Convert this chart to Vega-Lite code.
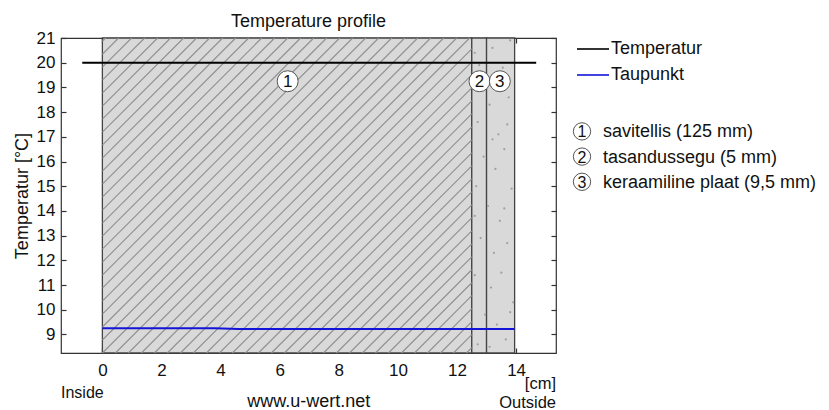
{
  "$schema": "https://vega.github.io/schema/vega-lite/v6.json",
  "width": 495,
  "height": 315,
  "autosize": {"type": "none"},
  "padding": {"left": 61, "top": 38, "right": 273, "bottom": 57},
  "background": "white",
  "title": {"text": "Temperature profile", "fontSize": 18, "font": "Liberation Sans", "fontWeight": "normal", "color": "#111", "anchor": "middle", "baseline": "alphabetic", "offset": 10, "dy": 26},
  "config": {
    "font": "Liberation Sans",
    "view": {"stroke": "#333", "strokeWidth": 1.2},
    "axis": {"domain": false, "grid": false, "tickColor": "#333", "tickWidth": 1.2, "labelFont": "Liberation Sans", "labelFontSize": 17, "labelColor": "#111", "titleFont": "Liberation Sans", "titleFontWeight": "normal", "titleColor": "#111"}
  },
  "datasets": {
    "materials": [
      {"id": "1", "name": "savitellis (125 mm)", "from": 0, "to": 12.5, "labelX": 6.27, "keyY": 17.22},
      {"id": "2", "name": "tasandussegu (5 mm)", "from": 12.5, "to": 13.0, "labelX": 12.76, "keyY": 16.2},
      {"id": "3", "name": "keraamiline plaat (9,5 mm)", "from": 13.0, "to": 13.95, "labelX": 13.45, "keyY": 15.18}
    ],
    "hatch": [
      {"xa": 0, "ya": 20.868, "xb": 0.11, "yb": 21},
      {"xa": 0, "ya": 20.342, "xb": 0.55, "yb": 21},
      {"xa": 0, "ya": 19.817, "xb": 0.99, "yb": 21},
      {"xa": 0, "ya": 19.291, "xb": 1.43, "yb": 21},
      {"xa": 0, "ya": 18.765, "xb": 1.87, "yb": 21},
      {"xa": 0, "ya": 18.239, "xb": 2.31, "yb": 21},
      {"xa": 0, "ya": 17.714, "xb": 2.75, "yb": 21},
      {"xa": 0, "ya": 17.188, "xb": 3.19, "yb": 21},
      {"xa": 0, "ya": 16.662, "xb": 3.63, "yb": 21},
      {"xa": 0, "ya": 16.136, "xb": 4.07, "yb": 21},
      {"xa": 0, "ya": 15.611, "xb": 4.51, "yb": 21},
      {"xa": 0, "ya": 15.085, "xb": 4.95, "yb": 21},
      {"xa": 0, "ya": 14.559, "xb": 5.39, "yb": 21},
      {"xa": 0, "ya": 14.033, "xb": 5.83, "yb": 21},
      {"xa": 0, "ya": 13.508, "xb": 6.27, "yb": 21},
      {"xa": 0, "ya": 12.982, "xb": 6.71, "yb": 21},
      {"xa": 0, "ya": 12.456, "xb": 7.15, "yb": 21},
      {"xa": 0, "ya": 11.93, "xb": 7.59, "yb": 21},
      {"xa": 0, "ya": 11.405, "xb": 8.03, "yb": 21},
      {"xa": 0, "ya": 10.879, "xb": 8.47, "yb": 21},
      {"xa": 0, "ya": 10.353, "xb": 8.91, "yb": 21},
      {"xa": 0, "ya": 9.827, "xb": 9.35, "yb": 21},
      {"xa": 0, "ya": 9.302, "xb": 9.79, "yb": 21},
      {"xa": 0, "ya": 8.776, "xb": 10.23, "yb": 21},
      {"xa": 0, "ya": 8.25, "xb": 10.67, "yb": 21},
      {"xa": 0.44, "ya": 8.25, "xb": 11.11, "yb": 21},
      {"xa": 0.88, "ya": 8.25, "xb": 11.55, "yb": 21},
      {"xa": 1.32, "ya": 8.25, "xb": 11.99, "yb": 21},
      {"xa": 1.76, "ya": 8.25, "xb": 12.43, "yb": 21},
      {"xa": 2.2, "ya": 8.25, "xb": 12.5, "yb": 20.557},
      {"xa": 2.64, "ya": 8.25, "xb": 12.5, "yb": 20.032},
      {"xa": 3.08, "ya": 8.25, "xb": 12.5, "yb": 19.506},
      {"xa": 3.52, "ya": 8.25, "xb": 12.5, "yb": 18.98},
      {"xa": 3.96, "ya": 8.25, "xb": 12.5, "yb": 18.454},
      {"xa": 4.4, "ya": 8.25, "xb": 12.5, "yb": 17.929},
      {"xa": 4.84, "ya": 8.25, "xb": 12.5, "yb": 17.403},
      {"xa": 5.28, "ya": 8.25, "xb": 12.5, "yb": 16.877},
      {"xa": 5.72, "ya": 8.25, "xb": 12.5, "yb": 16.351},
      {"xa": 6.16, "ya": 8.25, "xb": 12.5, "yb": 15.826},
      {"xa": 6.6, "ya": 8.25, "xb": 12.5, "yb": 15.3},
      {"xa": 7.04, "ya": 8.25, "xb": 12.5, "yb": 14.774},
      {"xa": 7.48, "ya": 8.25, "xb": 12.5, "yb": 14.248},
      {"xa": 7.92, "ya": 8.25, "xb": 12.5, "yb": 13.723},
      {"xa": 8.36, "ya": 8.25, "xb": 12.5, "yb": 13.197},
      {"xa": 8.8, "ya": 8.25, "xb": 12.5, "yb": 12.671},
      {"xa": 9.24, "ya": 8.25, "xb": 12.5, "yb": 12.145},
      {"xa": 9.68, "ya": 8.25, "xb": 12.5, "yb": 11.62},
      {"xa": 10.12, "ya": 8.25, "xb": 12.5, "yb": 11.094},
      {"xa": 10.56, "ya": 8.25, "xb": 12.5, "yb": 10.568},
      {"xa": 11.0, "ya": 8.25, "xb": 12.5, "yb": 10.042},
      {"xa": 11.44, "ya": 8.25, "xb": 12.5, "yb": 9.517},
      {"xa": 11.88, "ya": 8.25, "xb": 12.5, "yb": 8.991},
      {"xa": 12.32, "ya": 8.25, "xb": 12.5, "yb": 8.465}
    ],
    "specks": [
      {"x": 12.6, "y": 20.4}, {"x": 12.85, "y": 19.1}, {"x": 13.2, "y": 20.6}, {"x": 13.55, "y": 19.8},
      {"x": 13.8, "y": 20.9}, {"x": 12.7, "y": 17.6}, {"x": 13.1, "y": 18.3}, {"x": 13.4, "y": 17.1},
      {"x": 13.75, "y": 18.6}, {"x": 12.9, "y": 16.2}, {"x": 13.3, "y": 15.7}, {"x": 13.6, "y": 16.5},
      {"x": 12.65, "y": 15.0}, {"x": 13.05, "y": 14.2}, {"x": 13.85, "y": 14.9}, {"x": 13.45, "y": 13.6},
      {"x": 12.8, "y": 12.9}, {"x": 13.25, "y": 12.3}, {"x": 13.7, "y": 12.7}, {"x": 12.6, "y": 11.4},
      {"x": 13.15, "y": 10.9}, {"x": 13.5, "y": 11.5}, {"x": 13.9, "y": 10.3}, {"x": 12.95, "y": 9.8},
      {"x": 13.35, "y": 9.4}, {"x": 13.65, "y": 8.8}, {"x": 12.7, "y": 8.6}, {"x": 13.1, "y": 8.5},
      {"x": 13.8, "y": 9.9}, {"x": 12.75, "y": 19.9}, {"x": 13.6, "y": 14.1}, {"x": 13.2, "y": 16.9},
      {"x": 12.6, "y": 13.8}, {"x": 13.4, "y": 19.3}, {"x": 13.7, "y": 17.5}
    ],
    "profile": [
      {"series": "Temperatur", "x": -0.68, "t": 20.0},
      {"series": "Temperatur", "x": 14.68, "t": 20.0},
      {"series": "Taupunkt", "x": 0, "t": 9.25},
      {"series": "Taupunkt", "x": 3.8, "t": 9.25},
      {"series": "Taupunkt", "x": 4.6, "t": 9.22},
      {"series": "Taupunkt", "x": 13.95, "t": 9.22}
    ]
  },
  "layer": [
    {
      "data": {"name": "materials"},
      "mark": {"type": "rect", "fill": "#d9d9d9", "stroke": "#444", "strokeWidth": 1.3},
      "encoding": {
        "x": {"field": "from", "type": "quantitative", "scale": {"domain": [-1.4, 15.35], "nice": false, "zero": false},
              "axis": {"orient": "bottom", "values": [0, 2, 4, 6, 8, 10, 12, 14], "tickSize": -5, "labelPadding": 14, "title": null}},
        "x2": {"field": "to"},
        "y": {"datum": 21, "type": "quantitative", "scale": {"domain": [8.25, 21], "nice": false, "zero": false},
              "axis": {"orient": "left", "values": [9, 10, 11, 12, 13, 14, 15, 16, 17, 18, 19, 20, 21], "tickSize": -5, "labelPadding": 11, "title": "Temperatur [°C]", "titleFontSize": 18, "titlePadding": 5}},
        "y2": {"datum": 8.25}
      }
    },
    {
      "data": {"name": "hatch"},
      "mark": {"type": "rule", "stroke": "#909090", "strokeWidth": 1.1},
      "encoding": {
        "x": {"field": "xa", "type": "quantitative", "axis": null},
        "x2": {"field": "xb"},
        "y": {"field": "ya", "type": "quantitative", "axis": null},
        "y2": {"field": "yb"}
      }
    },
    {
      "data": {"name": "specks"},
      "mark": {"type": "point", "shape": "circle", "filled": true, "color": "#a0a0a0", "opacity": 1, "size": 5},
      "encoding": {
        "x": {"field": "x", "type": "quantitative", "axis": null},
        "y": {"field": "y", "type": "quantitative", "axis": null}
      }
    },
    {
      "data": {"name": "profile"},
      "mark": {"type": "line", "strokeWidth": 2},
      "encoding": {
        "x": {"field": "x", "type": "quantitative",
              "axis": {"orient": "top", "values": [0, 2, 4, 6, 8, 10, 12, 14], "tickSize": -5, "labels": false, "title": null, "minExtent": 0, "maxExtent": 0, "offset": 0}},
        "y": {"field": "t", "type": "quantitative",
              "axis": {"orient": "right", "values": [9, 10, 11, 12, 13, 14, 15, 16, 17, 18, 19, 20, 21], "tickSize": -5, "labels": false, "title": null, "minExtent": 0, "maxExtent": 0}},
        "color": {"field": "series", "type": "nominal",
                  "scale": {"domain": ["Temperatur", "Taupunkt"], "range": ["#000000", "#1414d8"]},
                  "legend": {"title": null, "orient": "none", "legendX": 515, "legendY": -6, "symbolType": "stroke", "symbolSize": 1024, "symbolStrokeWidth": 1.6, "labelFontSize": 18, "labelFont": "Liberation Sans", "labelColor": "#111", "labelOffset": 1, "rowPadding": -6, "padding": 0}},
        "detail": {"field": "series"}
      }
    },
    {
      "data": {"name": "materials"},
      "mark": {"type": "point", "shape": "circle", "filled": true, "fill": "white", "stroke": "#555", "strokeWidth": 1, "opacity": 1, "size": 440},
      "encoding": {
        "x": {"field": "labelX", "type": "quantitative", "axis": null},
        "y": {"datum": 19.25, "type": "quantitative", "axis": null}
      }
    },
    {
      "data": {"name": "materials"},
      "mark": {"type": "text", "fontSize": 17, "color": "#111", "align": "center", "baseline": "middle", "dy": 1},
      "encoding": {
        "x": {"field": "labelX", "type": "quantitative", "axis": null},
        "y": {"datum": 19.25, "type": "quantitative", "axis": null},
        "text": {"field": "id"}
      }
    },
    {
      "data": {"name": "materials"},
      "mark": {"type": "point", "shape": "circle", "filled": true, "fill": "white", "stroke": "#555", "strokeWidth": 1, "opacity": 1, "size": 300},
      "encoding": {
        "x": {"datum": 16.23, "type": "quantitative", "axis": null},
        "y": {"field": "keyY", "type": "quantitative", "axis": null}
      }
    },
    {
      "data": {"name": "materials"},
      "mark": {"type": "text", "fontSize": 16, "color": "#111", "align": "center", "baseline": "middle", "dy": 1},
      "encoding": {
        "x": {"datum": 16.23, "type": "quantitative", "axis": null},
        "y": {"field": "keyY", "type": "quantitative", "axis": null},
        "text": {"field": "id"}
      }
    },
    {
      "data": {"name": "materials"},
      "mark": {"type": "text", "fontSize": 18, "color": "#111", "align": "left", "baseline": "middle", "dy": 1},
      "encoding": {
        "x": {"datum": 16.94, "type": "quantitative", "axis": null},
        "y": {"field": "keyY", "type": "quantitative", "axis": null},
        "text": {"field": "name"}
      }
    },
    {
      "data": {"values": [{"label": "Inside", "x": -1.4, "y": 6.43}]},
      "mark": {"type": "text", "fontSize": 16, "color": "#111", "align": "left", "baseline": "alphabetic"},
      "encoding": {
        "x": {"field": "x", "type": "quantitative", "axis": null},
        "y": {"field": "y", "type": "quantitative", "axis": null},
        "text": {"field": "label"}
      }
    },
    {
      "data": {"values": [{"label": "www.u-wert.net", "x": 6.98, "y": 6.06}]},
      "mark": {"type": "text", "fontSize": 18, "color": "#111", "align": "center", "baseline": "alphabetic"},
      "encoding": {
        "x": {"field": "x", "type": "quantitative", "axis": null},
        "y": {"field": "y", "type": "quantitative", "axis": null},
        "text": {"field": "label"}
      }
    },
    {
      "data": {"values": [{"label": "[cm]", "x": 15.35, "y": 6.8}, {"label": "Outside", "x": 15.35, "y": 6.02}]},
      "mark": {"type": "text", "fontSize": 16.5, "color": "#111", "align": "right", "baseline": "alphabetic"},
      "encoding": {
        "x": {"field": "x", "type": "quantitative", "axis": null},
        "y": {"field": "y", "type": "quantitative", "axis": null},
        "text": {"field": "label"}
      }
    }
  ],
  "resolve": {"axis": {"x": "independent", "y": "independent"}}
}
